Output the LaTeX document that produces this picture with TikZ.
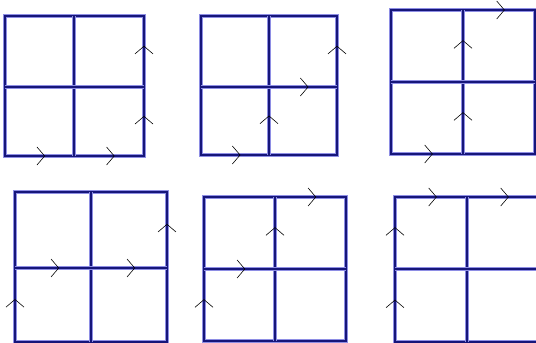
\documentclass[tikz,border=0pt]{standalone}
\usepackage{xcolor}
\definecolor{LNavy}{HTML}{16167A}
\definecolor{LHalo}{HTML}{8E8EE4}
\usepackage{tikz}
\usetikzlibrary{arrows.meta,decorations.markings}
\tikzstyle{gridLine}=[draw=LNavy, line width=1.9pt, line cap=rect,
  preaction={draw=LHalo, line width=3pt}]
\tikzstyle{stepArr}=[postaction={decorate}, decoration={markings,
  mark=at position 0.58 with {\arrow[black, line width=0.5pt]{Straight Barb[length=2.3mm, width=5.4mm]}}}]
% #1 name, #2 left, #3 mid x, #4 right, #5 top, #6 mid y, #7 bottom
\newcommand{\latticebox}[7]{%
  \foreach \i/\x in {0/#2,1/#3,2/#4}
    \foreach \j/\y in {0/#7,1/#6,2/#5}
      \coordinate (#1-\i\j) at (\x,\y);
  \draw[gridLine] (#1-00) rectangle (#1-22);
  \draw[gridLine] (#1-10) -- (#1-12);
  \draw[gridLine] (#1-01) -- (#1-21);
}

\begin{document}
\begin{tikzpicture}[x=0.03cm, y=-0.03cm]
\useasboundingbox (0,0) rectangle (536,343);
\clip (0,0) rectangle (536,343);

\latticebox{rruu}{5}{74}{144}{16}{87}{156}
\latticebox{ruru}{201}{269}{337}{16}{87}{155}
\latticebox{ruur}{391}{463}{535}{10}{82}{154}
\latticebox{urru}{15}{91}{167}{192}{268}{342}
\latticebox{urur}{204}{275}{346}{197}{269}{341}
\latticebox{uurr}{395}{467}{539}{197}{269}{342}

% the six paths
\foreach \p/\q in {00/10,10/20,20/21,21/22} \path[stepArr] (rruu-\p) -- (rruu-\q);
\foreach \p/\q in {00/10,10/11,11/21,21/22} \path[stepArr] (ruru-\p) -- (ruru-\q);
\foreach \p/\q in {00/10,10/11,11/12,12/22} \path[stepArr] (ruur-\p) -- (ruur-\q);
\foreach \p/\q in {00/01,01/11,11/21,21/22} \path[stepArr] (urru-\p) -- (urru-\q);
\foreach \p/\q in {00/01,01/11,11/12,12/22} \path[stepArr] (urur-\p) -- (urur-\q);
\foreach \p/\q in {00/01,01/02,02/12,12/22} \path[stepArr] (uurr-\p) -- (uurr-\q);
\end{tikzpicture}
\end{document}
